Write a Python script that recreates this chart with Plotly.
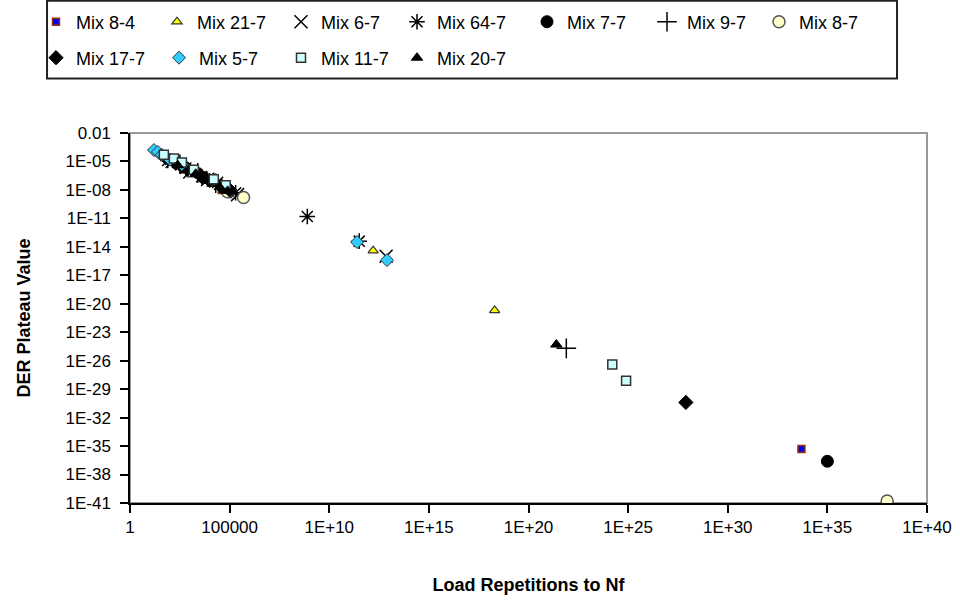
import plotly.graph_objects as go

# ---- data ----
mix_8_4_x = [4.0e4, 1.0e5, 5.0e33]
mix_8_4_y = [1.0e-8, 5.0e-9, 5.0e-36]

mix_21_7_x = [1.3e3, 1.3e4, 6.3e4, 1.6e12, 2.0e18]
mix_21_7_y = [4.0e-7, 4.0e-8, 1.0e-8, 4.0e-15, 2.0e-21]

mix_6_7_x = [1.3e2, 1.0e3, 7.9e3, 2.5e5, 7.1e12]
mix_6_7_y = [1.0e-5, 7.9e-7, 1.3e-7, 3.2e-9, 1.0e-15]

mix_64_7_x = [7.9e1, 6.3e2, 4.0e3, 2.5e4, 2.0e5, 7.9e8, 3.2e11]
mix_64_7_y = [1.3e-5, 2.0e-6, 2.5e-7, 6.3e-8, 5.0e-9, 1.6e-11, 4.0e-14]

mix_7_7_x = [5.0e2, 5.0e3, 5.0e4, 1.0e35]
mix_7_7_y = [2.5e-6, 2.0e-7, 1.6e-8, 2.5e-37]

mix_9_7_x = [3.2e2, 2.5e3, 2.0e4, 7.9e21]
mix_9_7_y = [5.0e-6, 6.3e-7, 5.0e-8, 2.0e-25]

mix_8_7_x = [7.9e4, 5.0e5, 1.0e38]
mix_8_7_y = [6.3e-9, 1.6e-9, 1.6e-41]

mix_17_7_x = [6.3e1, 2.0e2, 7.9e2, 3.2e3, 1.0e4, 4.0e4, 1.0e5, 7.9e27]
mix_17_7_y = [2.5e-5, 6.3e-6, 1.6e-6, 4.0e-7, 1.0e-7, 2.5e-8, 1.0e-8, 4.0e-31]

mix_5_7_x = [1.6e1, 2.5e1, 4.0e1, 1.0e2, 4.0e2, 2.5e11, 7.9e12]
mix_5_7_y = [1.6e-4, 1.0e-4, 5.0e-5, 1.6e-5, 5.0e-6, 3.2e-14, 4.0e-16]

mix_11_7_x = [5.0e1, 1.6e2, 4.0e2, 1.6e3, 1.6e4, 6.3e4, 1.6e24, 7.9e24]
mix_11_7_y = [5.0e-5, 2.0e-5, 7.9e-6, 1.3e-6, 1.3e-7, 3.2e-8, 4.0e-27, 7.9e-29]

mix_20_7_x = [2.5e2, 2.0e3, 3.2e4, 7.9e4, 2.5e21]
mix_20_7_y = [4.0e-6, 5.0e-7, 2.0e-8, 7.9e-9, 5.0e-25]

x_tick_vals = [1, 1e5, 1e10, 1e15, 1e20, 1e25, 1e30, 1e35, 1e40]
x_tick_text = ["1", "100000", "1E+10", "1E+15", "1E+20", "1E+25", "1E+30", "1E+35", "1E+40"]
y_tick_vals = [1e-2, 1e-5, 1e-8, 1e-11, 1e-14, 1e-17, 1e-20, 1e-23, 1e-26,
               1e-29, 1e-32, 1e-35, 1e-38, 1e-41]
y_tick_text = ["0.01", "1E-05", "1E-08", "1E-11", "1E-14", "1E-17", "1E-20", "1E-23",
               "1E-26", "1E-29", "1E-32", "1E-35", "1E-38", "1E-41"]

FONT = "Arial, Liberation Sans, sans-serif"

# legend slot positions in pixels (marker centre x, row centre y)
ROW1, ROW2 = 22, 58
slots = [(57, ROW1), (178, ROW1), (302, ROW1), (418, ROW1), (548, ROW1), (668, ROW1), (780, ROW1),
         (57, ROW2), (180, ROW2), (302, ROW2), (418, ROW2)]

series = [
    ("Mix 8-4", mix_8_4_x, mix_8_4_y,
     dict(symbol="square", size=7, color="#0000FF", line=dict(color="#993300", width=1.5))),
    ("Mix 21-7", mix_21_7_x, mix_21_7_y,
     dict(symbol="triangle-up", size=9, color="#FFFF00", line=dict(color="#333333", width=1.2))),
    ("Mix 6-7", mix_6_7_x, mix_6_7_y,
     dict(symbol="x-thin-open", size=13, color="#000000", line=dict(color="#000000", width=1.5))),
    ("Mix 64-7", mix_64_7_x, mix_64_7_y,
     dict(symbol="asterisk-open", size=13, color="#000000", line=dict(color="#000000", width=1.5))),
    ("Mix 7-7", mix_7_7_x, mix_7_7_y,
     dict(symbol="circle", size=12, color="#000000", line=dict(color="#000000", width=1))),
    ("Mix 9-7", mix_9_7_x, mix_9_7_y,
     dict(symbol="cross-thin-open", size=14, color="#000000", line=dict(color="#000000", width=1.5))),
    ("Mix 8-7", mix_8_7_x, mix_8_7_y,
     dict(symbol="circle", size=12, color="#FFFFCC", line=dict(color="#555555", width=1.5))),
    ("Mix 17-7", mix_17_7_x, mix_17_7_y,
     dict(symbol="diamond", size=11, color="#000000", line=dict(color="#000000", width=1))),
    ("Mix 5-7", mix_5_7_x, mix_5_7_y,
     dict(symbol="diamond", size=10, color="#33CCFF", line=dict(color="#333333", width=1))),
    ("Mix 11-7", mix_11_7_x, mix_11_7_y,
     dict(symbol="square", size=9, color="#CCFFFF", line=dict(color="#333333", width=1.5))),
    ("Mix 20-7", mix_20_7_x, mix_20_7_y,
     dict(symbol="triangle-up", size=10, color="#000000", line=dict(color="#000000", width=1))),
]

fig = go.Figure()
legends = {}
for i, (name, xs, ys, mk) in enumerate(series):
    key = "legend" if i == 0 else f"legend{i + 1}"
    fig.add_trace(go.Scatter(x=xs, y=ys, mode="markers", name=name, marker=mk,
                             legend=key, showlegend=True))
    px, py = slots[i]
    legends[key] = dict(
        orientation="h", xref="container", yref="container",
        x=(px - 21) / 960, xanchor="left", y=1 - py / 607, yanchor="middle",
        bgcolor="rgba(0,0,0,0)", borderwidth=0,
        font=dict(family=FONT, size=18, color="#000000"), itemclick=False,
    )

fig.update_layout(
    width=960, height=607, showlegend=True,
    paper_bgcolor="white", plot_bgcolor="white",
    margin=dict(l=130, r=33, t=133, b=104, autoexpand=False),
    font=dict(family=FONT, size=17, color="#000000"),
    xaxis=dict(
        type="log", range=[0, 40], tickmode="array", tickvals=x_tick_vals, ticktext=x_tick_text,
        showgrid=False, zeroline=False, showline=True, linecolor="#000000", linewidth=1.5,
        ticks="outside", ticklen=8, tickwidth=1.5, tickcolor="#000000", automargin=False,
        tickfont=dict(family=FONT, size=17),
        title=dict(text="<b>Load Repetitions to Nf</b>", font=dict(family=FONT, size=18), standoff=42),
    ),
    yaxis=dict(
        type="log", range=[-41, -2], tickmode="array", tickvals=y_tick_vals, ticktext=y_tick_text,
        showgrid=False, zeroline=False, showline=True, linecolor="#000000", linewidth=1.5,
        ticks="outside", ticklen=8, tickwidth=1.5, tickcolor="#000000", automargin=False,
        tickfont=dict(family=FONT, size=17), ticklabelstandoff=6,
        title=dict(text="<b>DER Plateau Value</b>", font=dict(family=FONT, size=18), standoff=30),
    ),
    shapes=[
        dict(type="rect", xref="paper", yref="paper", x0=0, x1=1, y0=0, y1=1,
             line=dict(color="#999999", width=2), layer="below"),
        dict(type="rect", xref="paper", yref="paper", x0=-0.1041, x1=0.9624, y0=1.1475, y1=1.3575,
             line=dict(color="#222222", width=2)),
    ],
    **legends,
)

fig.write_html("out.html")
